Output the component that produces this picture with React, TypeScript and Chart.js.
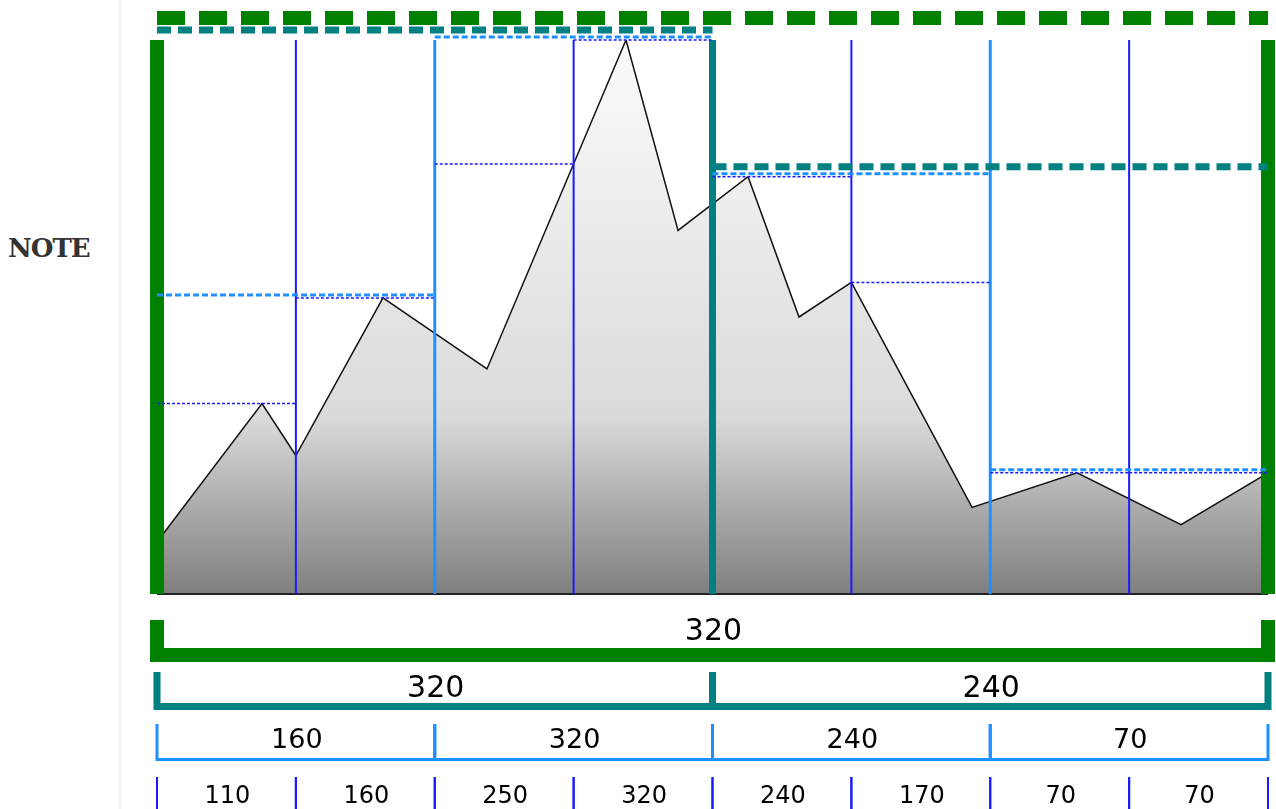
import React, { useEffect, useRef } from 'react';
import { Chart, registerables } from 'chart.js';

Chart.register(...registerables);

// Profile data (x measured in leaf-segment units 0..8)
const xs = [0, 0.756, 1.0, 1.627, 2.376, 3.377, 3.752, 4.256, 4.623, 5.0, 5.869, 6.625, 7.374, 8];
const values = [30, 110, 80, 171, 130, 320, 210, 241, 160, 180, 50, 70, 40, 70];

// Segment boundaries (leaf index)
const boundaries = [0, 1, 2, 3, 4, 5, 6, 7, 8];

// Labels of the range-maximum tree, bottom to top
const leafLabels = ['110', '160', '250', '320', '240', '170', '70', '70'];
const pairLabels = ['160', '320', '240', '70'];
const halfLabels = ['320', '240'];
const rootLabels = ['320'];

const Y_MAX = 320;
const NOTE_TEXT = 'NOTE';

type Level = {
  span: number;
  labels: string[];
  color: string;
  lw: number;
  hlw: number;
  dash: number[];
  offset: number;
  tickTop: number;
  barY: number;
  font: number;
  textY: number;
};

const LEVELS: Level[] = [
  { span: 1, labels: leafLabels, color: '#1a1aff', lw: 2, hlw: 1.5, dash: [3, 2], offset: 0, tickTop: 777, barY: 812, font: 24, textY: 803 },
  { span: 2, labels: pairLabels, color: '#1e90ff', lw: 3, hlw: 3, dash: [6, 3], offset: 3, tickTop: 724, barY: 759.5, font: 27, textY: 748 },
  { span: 4, labels: halfLabels, color: '#008080', lw: 7, hlw: 7, dash: [14, 7], offset: 10, tickTop: 672, barY: 706.5, font: 30, textY: 697 },
  { span: 8, labels: rootLabels, color: '#008000', lw: 14, hlw: 14, dash: [28, 14], offset: 22, tickTop: 620, barY: 655, font: 30, textY: 640 },
];

function interp(x: number): number {
  for (let i = 0; i < xs.length - 1; i++) {
    if (x >= xs[i] && x <= xs[i + 1]) {
      const t = (x - xs[i]) / (xs[i + 1] - xs[i]);
      return values[i] + t * (values[i + 1] - values[i]);
    }
  }
  return x <= xs[0] ? values[0] : values[values.length - 1];
}

function segMax(a: number, b: number): number {
  let m = Math.max(interp(a), interp(b));
  for (let i = 0; i < xs.length; i++) {
    if (xs[i] >= a && xs[i] <= b) m = Math.max(m, values[i]);
  }
  return m;
}

const treePlugin = {
  id: 'treePlugin',
  afterDatasetsDraw(chart: any) {
    const { ctx, chartArea, scales } = chart;
    const xS = scales.x;
    const yS = scales.y;
    ctx.save();

    // baseline
    ctx.beginPath();
    ctx.strokeStyle = '#222';
    ctx.lineWidth = 2;
    ctx.moveTo(xS.getPixelForValue(boundaries[0]), chartArea.bottom);
    ctx.lineTo(xS.getPixelForValue(boundaries[boundaries.length - 1]), chartArea.bottom);
    ctx.stroke();

    // vertical boundary lines
    boundaries.forEach((b) => {
      let lvl = LEVELS[0];
      LEVELS.forEach((L) => {
        if (b % L.span === 0) lvl = L;
      });
      const px = xS.getPixelForValue(b);
      ctx.beginPath();
      ctx.setLineDash([]);
      ctx.lineCap = 'butt';
      ctx.strokeStyle = lvl.color;
      ctx.lineWidth = lvl.lw;
      ctx.moveTo(px, chartArea.top);
      ctx.lineTo(px, chartArea.bottom);
      ctx.stroke();
    });

    // horizontal max lines
    LEVELS.forEach((L) => {
      const n = 8 / L.span;
      for (let k = 0; k < n; k++) {
        const a = k * L.span;
        const b = a + L.span;
        const m = segMax(a, b);
        const py = yS.getPixelForValue(m) - L.offset;
        ctx.beginPath();
        ctx.setLineDash(L.dash);
        ctx.lineDashOffset = 0;
        ctx.strokeStyle = L.color;
        ctx.lineWidth = L.hlw;
        ctx.moveTo(xS.getPixelForValue(a), py);
        ctx.lineTo(xS.getPixelForValue(b), py);
        ctx.stroke();
      }
    });
    ctx.setLineDash([]);

    // brackets and labels
    LEVELS.forEach((L) => {
      const n = 8 / L.span;
      for (let k = 0; k < n; k++) {
        const a = xS.getPixelForValue(k * L.span);
        const b = xS.getPixelForValue(k * L.span + L.span);
        ctx.beginPath();
        ctx.strokeStyle = L.color;
        ctx.lineWidth = L.lw;
        ctx.lineJoin = 'miter';
        ctx.lineCap = 'butt';
        ctx.moveTo(a, L.tickTop);
        ctx.lineTo(a, L.barY);
        ctx.lineTo(b, L.barY);
        ctx.lineTo(b, L.tickTop);
        ctx.stroke();

        ctx.fillStyle = '#000';
        ctx.font = `${L.font}px "DejaVu Sans"`;
        ctx.textAlign = 'center';
        ctx.textBaseline = 'alphabetic';
        ctx.fillText(L.labels[k], (a + b) / 2 + 1, L.textY);
      }
    });
    ctx.restore();
  },
};

export default function App() {
  const ref = useRef<HTMLCanvasElement | null>(null);

  useEffect(() => {
    if (!ref.current) return;
    const chart = new Chart(ref.current, {
      type: 'line',
      data: {
        datasets: [
          {
            data: xs.map((x, i) => ({ x, y: values[i] })),
            borderColor: '#111',
            borderWidth: 1.5,
            pointRadius: 0,
            tension: 0,
            fill: 'start',
            backgroundColor: (c: any) => {
              const { chart } = c;
              const area = chart.chartArea;
              if (!area) return '#ccc';
              const g = chart.ctx.createLinearGradient(0, area.top, 0, area.bottom);
              g.addColorStop(0, '#fbfbfb');
              g.addColorStop(0.68, '#dadada');
              g.addColorStop(1, '#7f7f7f');
              return g;
            },
          },
        ],
      },
      options: {
        animation: false,
        responsive: false,
        events: [],
        layout: { padding: { left: 36, right: 8, top: 40, bottom: 215 } },
        scales: {
          x: { type: 'linear', min: 0, max: 8, display: false },
          y: { min: 0, max: Y_MAX, display: false },
        },
        plugins: { legend: { display: false }, tooltip: { enabled: false } },
      },
      plugins: [treePlugin],
    } as any);
    return () => chart.destroy();
  }, []);

  return (
    <div style={{ position: 'fixed', left: 0, top: 0, width: 1276, height: 809, display: 'flex', background: '#fff', overflow: 'hidden' }}>
      <div style={{ position: 'relative', width: 121, height: 809, boxSizing: 'border-box', borderRight: '2px solid #efefef', flex: '0 0 auto' }}>
        <div
          style={{
            position: 'absolute',
            left: 8,
            top: 231,
            fontFamily: '"DejaVu Serif", serif',
            fontWeight: 'bold',
            fontSize: 26,
            letterSpacing: '-1px',
            lineHeight: '34px',
            color: '#333',
            whiteSpace: 'nowrap',
          }}
        >
          {NOTE_TEXT}
        </div>
      </div>
      <canvas ref={ref} width={1155} height={809} style={{ display: 'block', width: 1155, height: 809 }} />
    </div>
  );
}
